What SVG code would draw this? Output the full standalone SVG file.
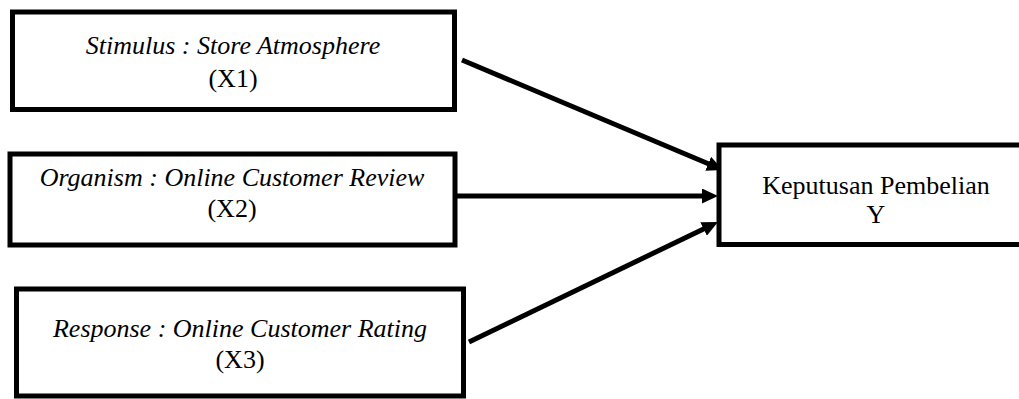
<svg xmlns="http://www.w3.org/2000/svg" width="1019" height="399" viewBox="0 0 1019 399">
<style>
.box{fill:#fff;stroke:#000;stroke-width:5}
.t{font-family:"Liberation Serif","Times New Roman",serif;font-size:26px;fill:#000;text-anchor:middle}
.i{font-style:italic}
.c{stroke:#000;stroke-width:5;fill:none;marker-end:url(#ah)}
</style>
<defs>
<marker id="ah" markerUnits="userSpaceOnUse" markerWidth="16" markerHeight="15" refX="4" refY="7.5" orient="auto" viewBox="0 0 16 15">
<path d="M0,0 L16,7.5 L0,15 z" fill="#000"/>
</marker>
</defs>
<rect width="1019" height="399" fill="#fff"/>
<g id="connectors">
<line class="c" x1="462" y1="60" x2="711.9" y2="165.3"/>
<line class="c" x1="457" y1="196" x2="706" y2="196"/>
<line class="c" x1="469" y1="342" x2="707.2" y2="227.2"/>
</g>
<g id="x1">
<rect class="box" x="12.5" y="12" width="442" height="97.5"/>
<text class="t i" x="233" y="54">Stimulus : Store Atmosphere</text>
<text class="t" x="233" y="87">(X1)</text>
</g>
<g id="x2">
<rect class="box" x="10" y="154" width="445" height="91"/>
<text class="t i" x="232" y="186">Organism : Online Customer Review</text>
<text class="t" x="232" y="217">(X2)</text>
</g>
<g id="x3">
<rect class="box" x="16.5" y="289" width="447" height="107"/>
<text class="t i" x="240" y="337">Response : Online Customer Rating</text>
<text class="t" x="240" y="368">(X3)</text>
</g>
<g id="y">
<rect class="box" x="719" y="145" width="310" height="99.5"/>
<text class="t" x="876" y="194">Keputusan Pembelian</text>
<text class="t" x="876" y="223">Y</text>
</g>
</svg>
